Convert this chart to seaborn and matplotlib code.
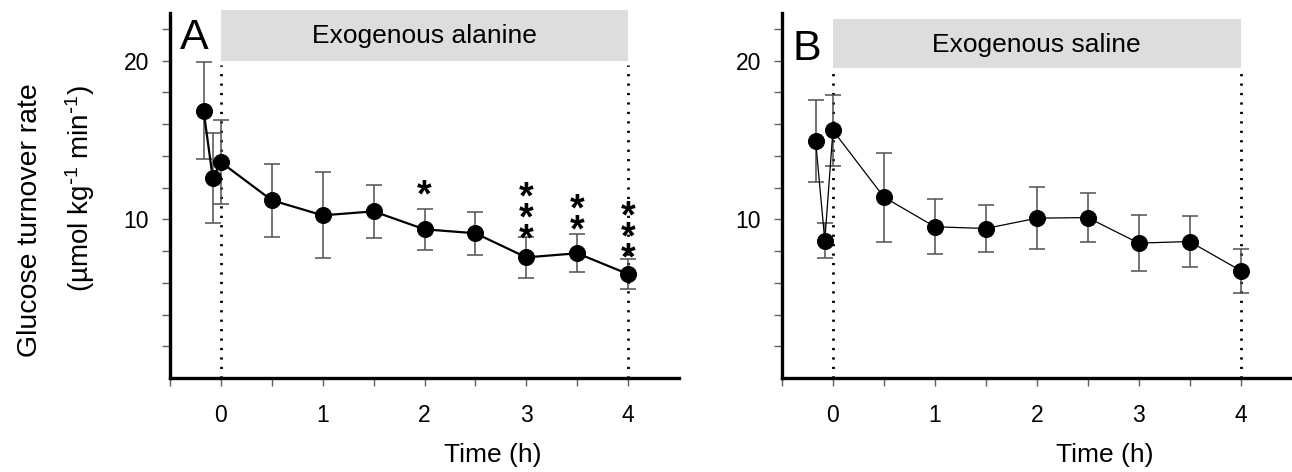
import matplotlib
matplotlib.use("Agg")
import matplotlib.pyplot as plt
import matplotlib.transforms as mtransforms
from matplotlib.patches import Rectangle
import seaborn as sns
import pandas as pd

# ---------------- data ----------------
time_h = [-0.17, -0.08, 0, 0.5, 1, 1.5, 2, 2.5, 3, 3.5, 4]
alanine_mean = [16.85, 12.6, 13.6, 11.2, 10.25, 10.5, 9.37, 9.12, 7.6, 7.86, 6.55]
alanine_err = [3.08, 2.86, 2.65, 2.3, 2.7, 1.65, 1.3, 1.34, 1.31, 1.2, 0.92]
saline_mean = [14.94, 8.65, 15.6, 11.4, 9.53, 9.42, 10.07, 10.11, 8.5, 8.6, 6.77]
saline_err = [2.6, 1.1, 2.23, 2.8, 1.72, 1.48, 1.95, 1.55, 1.74, 1.63, 1.39]

# significance stars (panel A): x, number of stars, y of the lowest star
star_x = [2, 3, 3.5, 4]
star_n = [1, 3, 2, 3]
star_bottom_y = [12.33, 9.54, 10.14, 8.32]

infusion_start, infusion_end = 0, 4
panel_letters = ["A", "B"]
panel_titles = ["Exogenous alanine", "Exogenous saline"]
x_ticks = [-0.5, 0, 0.5, 1, 1.5, 2, 2.5, 3, 3.5, 4]
x_ticklabels = ["", "0", "", "1", "", "2", "", "3", "", "4"]
y_ticks = [2, 4, 6, 8, 10, 12, 14, 16, 18, 20, 22]
y_ticklabels = ["", "", "", "", "10", "", "", "", "", "20", ""]
xlabel = "Time (h)"
ylabel1 = "Glucose turnover rate"
ylabel2 = r"(µmol kg$^{\text{-}1}$ min$^{\text{-}1}$)"

# ---------------- style ----------------
sns.set_style("ticks")
plt.rcParams["font.family"] = ["Liberation Sans", "DejaVu Sans"]
plt.rcParams["mathtext.default"] = "regular"
for k in ("text.color", "axes.labelcolor", "xtick.labelcolor", "ytick.labelcolor"):
    plt.rcParams[k] = "black"

W, H = 1292, 472
fig = plt.figure(figsize=(W / 100, H / 100), dpi=100)
axA = fig.add_axes([170 / W, (H - 378) / H, 509 / W, 365 / H])
axB = fig.add_axes([782 / W, (H - 378) / H, 509.5 / W, 365 / H])

panels = [
    (axA, alanine_mean, alanine_err, 1.6, (20.0, 3.2), 21.13, 20.75, 19.7),
    (axB, saline_mean, saline_err, 0.9, (19.53, 3.12), 20.53, 20.03, 19.3),
]

for i, (ax, mean, err, lw, box, title_y, letter_y, dot_top) in enumerate(panels):
    df = pd.DataFrame({"t": time_h, "v": mean})
    ax.errorbar(time_h, mean, yerr=err, fmt="none", ecolor="#505050",
                elinewidth=1.1, capsize=5.5, capthick=1.1, zorder=2)
    sns.lineplot(data=df, x="t", y="v", ax=ax, color="black", lw=lw,
                 marker="o", markersize=11.5, markeredgecolor="black",
                 markerfacecolor="black", sort=False, errorbar=None, zorder=3)
    ax.set_xlim(-0.5, 4.5)
    ax.set_ylim(0, 23)
    for xv in (infusion_start, infusion_end):
        ax.plot([xv, xv], [0, dot_top], color="black", lw=2.0,
                linestyle=(0, (0.8, 2.6)), zorder=1, clip_on=False)
    ax.add_patch(Rectangle((infusion_start, box[0]), infusion_end - infusion_start,
                           box[1], facecolor="#dddddd", edgecolor="none",
                           clip_on=False, zorder=0))
    ax.text((infusion_start + infusion_end) / 2, title_y, panel_titles[i],
            ha="center", va="baseline", fontsize=19)
    ax.text(-0.26, letter_y, panel_letters[i], ha="center", va="baseline",
            fontsize=31)

    ax.set_xticks(x_ticks)
    ax.set_xticklabels(x_ticklabels)
    ax.set_yticks(y_ticks)
    ax.set_yticklabels(y_ticklabels)
    ax.tick_params(axis="x", length=6, width=1, color="#606060", pad=13,
                   labelsize=16.5, labelcolor="black")
    ax.tick_params(axis="y", length=6, width=1, color="#606060", pad=9,
                   labelsize=16.5, labelcolor="black")
    sns.despine(ax=ax)
    for s in ("left", "bottom"):
        ax.spines[s].set_linewidth(2.4)
        ax.spines[s].set_color("black")
    ax.set_xlabel(xlabel, fontsize=19, va="center", color="black")
    ax.xaxis.set_label_coords(0.634, -0.211)
    ax.set_ylabel("")

# stars on panel A (one stacked text per time point, anchored at the lowest star)
fs_star = 27
star_tr = mtransforms.offset_copy(axA.transData, fig=fig, y=-0.64 * fs_star,
                                  units="points")
for xs, n, ys in zip(star_x, star_n, star_bottom_y):
    axA.text(xs, ys, "\n".join(["*"] * n), ha="center", va="baseline",
             fontsize=fs_star, fontweight="bold", linespacing=0.465,
             transform=star_tr)

fig.text(30 / W, 1 - 83 / H, ylabel1, rotation=90, ha="center", va="top",
         fontsize=20.5)
fig.text(80 / W, 1 - 85 / H, ylabel2, rotation=90, ha="center", va="top",
         fontsize=20)

fig.savefig("out.png", dpi=100)
